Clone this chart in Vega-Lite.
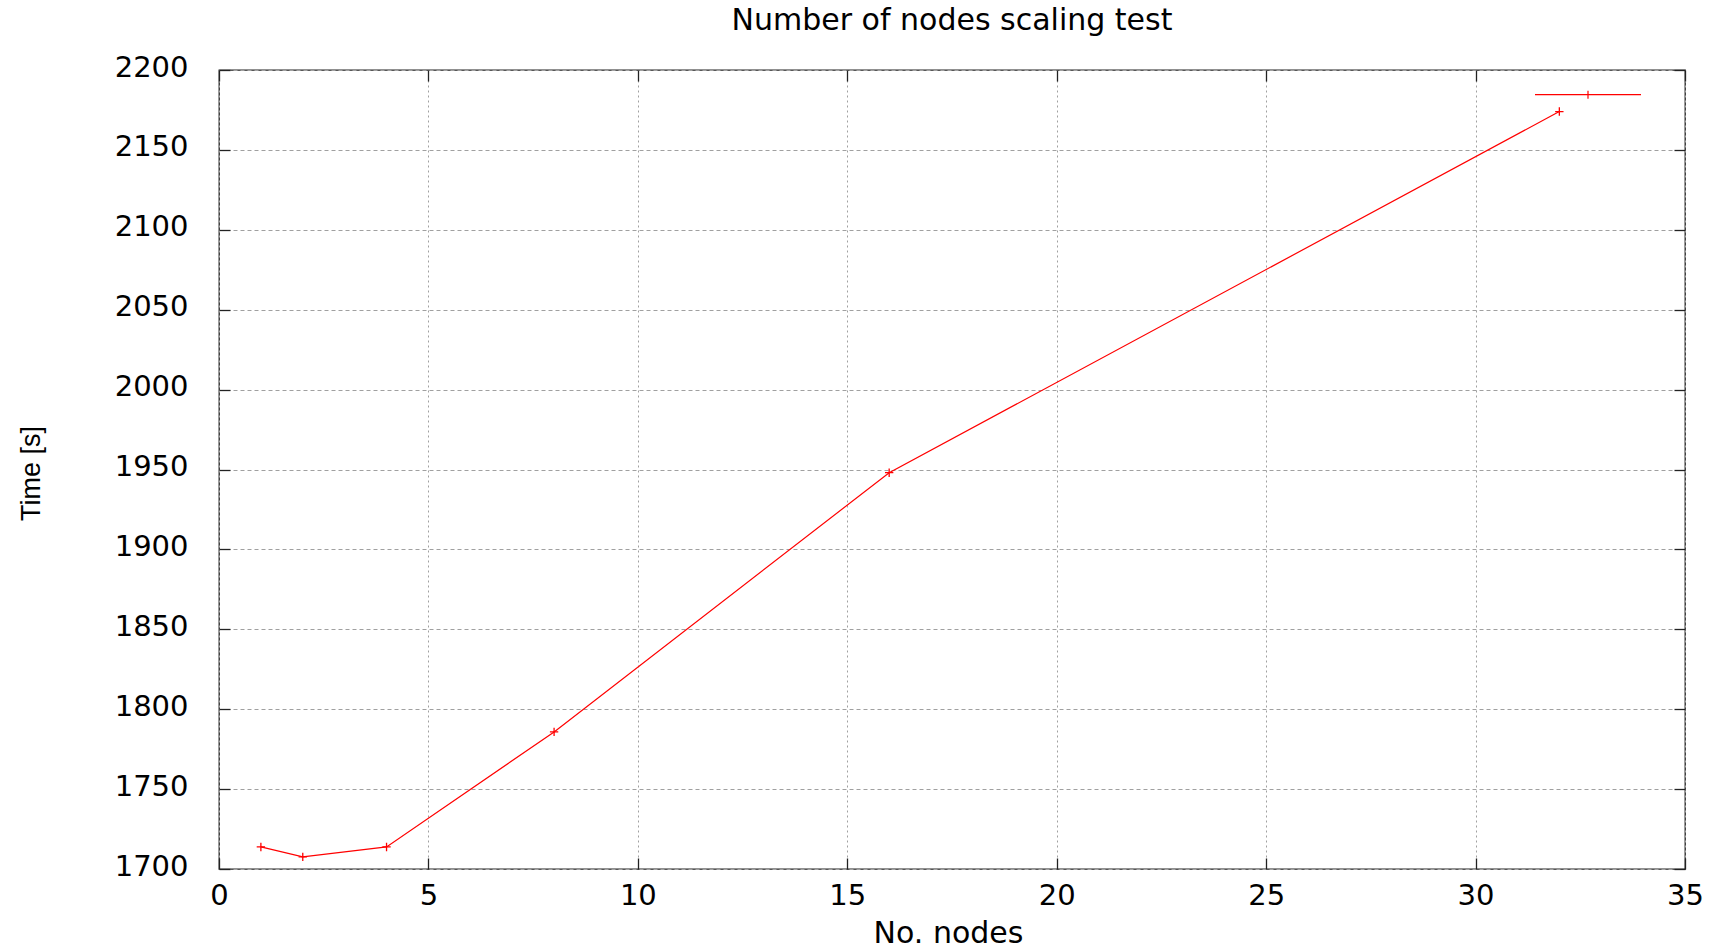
{
  "$schema": "https://vega.github.io/schema/vega-lite/v6.json",
  "width": 1466,
  "height": 799,
  "autosize": "none",
  "padding": {"left": 219, "top": 70, "right": 30, "bottom": 81},
  "background": "white",
  "title": {
    "text": "Number of nodes scaling test",
    "font": "DejaVu Sans",
    "fontSize": 30,
    "fontWeight": "normal",
    "color": "#000000",
    "anchor": "middle",
    "offset": 5
  },
  "config": {
    "view": {"stroke": "#222222", "strokeWidth": 1.3},
    "axis": {
      "labelFont": "DejaVu Sans",
      "labelFontSize": 29,
      "labelColor": "#000000",
      "titleColor": "#000000",
      "tickColor": "#222222",
      "tickWidth": 1.3,
      "domain": false
    }
  },
  "data": {
    "values": [
      {"nodes": 1, "time": 1713.8, "series": "Time"},
      {"nodes": 2, "time": 1707.6, "series": "Time"},
      {"nodes": 4, "time": 1713.8, "series": "Time"},
      {"nodes": 8, "time": 1785.8, "series": "Time"},
      {"nodes": 16, "time": 1948.0, "series": "Time"},
      {"nodes": 32, "time": 2174.0, "series": "Time"}
    ]
  },
  "layer": [
    {
      "mark": {"type": "line", "strokeWidth": 1.2},
      "encoding": {
        "x": {
          "field": "nodes", "type": "quantitative",
          "scale": {"domain": [0, 35], "nice": false, "zero": false},
          "axis": {
            "orient": "bottom",
            "values": [0, 5, 10, 15, 20, 25, 30, 35],
            "format": "d",
            "tickSize": -11,
            "labelPadding": 23,
            "labelFlush": false,
            "labelOverlap": false,
            "grid": true,
            "gridColor": "#a0a0a0",
            "gridDash": [2, 3],
            "gridWidth": 1,
            "title": "No. nodes",
            "titleFont": "DejaVu Sans",
            "titleFontSize": 30,
            "titleFontWeight": "normal",
            "titleX": 729,
            "titleY": 73,
            "titleBaseline": "alphabetic",
            "titleAnchor": "middle"
          }
        },
        "y": {
          "field": "time", "type": "quantitative",
          "scale": {"domain": [1700, 2200], "nice": false, "zero": false},
          "axis": {
            "orient": "left",
            "values": [1700, 1750, 1800, 1850, 1900, 1950, 2000, 2050, 2100, 2150, 2200],
            "format": "d",
            "tickSize": -11,
            "labelPadding": 42,
            "labelOffset": -3,
            "labelFlush": false,
            "labelOverlap": false,
            "grid": true,
            "gridColor": "#a0a0a0",
            "gridDash": [4, 3],
            "gridWidth": 1,
            "title": "Time [s]",
            "titleFont": "Liberation Sans",
            "titleFontSize": 27,
            "titleFontWeight": "normal",
            "titleAngle": -90,
            "titleX": -188,
            "titleY": 403,
            "titleAlign": "center",
            "titleBaseline": "middle"
          }
        },
        "color": {
          "field": "series", "type": "nominal",
          "scale": {"range": ["#ff0000"]},
          "legend": {
            "orient": "none",
            "legendX": 1315,
            "legendY": -29.3,
            "title": null,
            "padding": 0,
            "labelExpr": "''",
            "labelLimit": 1,
            "symbolType": "M-1,0L1,0M0,-0.075L0,0.075",
            "symbolSize": 11236,
            "symbolStrokeWidth": 1.2,
            "symbolStrokeColor": "#ff0000",
            "symbolFillColor": "transparent"
          }
        }
      }
    },
    {
      "mark": {
        "type": "point",
        "shape": "M-1,0L1,0M0,-1L0,1",
        "filled": false,
        "size": 70,
        "strokeWidth": 1.3,
        "color": "#ff0000",
        "opacity": 1
      },
      "encoding": {
        "x": {"field": "nodes", "type": "quantitative", "axis": null},
        "y": {"field": "time", "type": "quantitative", "axis": null}
      }
    },
    {
      "mark": {"type": "point", "opacity": 0},
      "encoding": {
        "x": {
          "field": "nodes", "type": "quantitative",
          "axis": {
            "orient": "top",
            "values": [0, 5, 10, 15, 20, 25, 30, 35],
            "tickSize": -11,
            "labels": false,
            "grid": false,
            "title": null
          }
        },
        "y": {
          "field": "time", "type": "quantitative",
          "axis": {
            "orient": "right",
            "values": [1700, 1750, 1800, 1850, 1900, 1950, 2000, 2050, 2100, 2150, 2200],
            "tickSize": -11,
            "labels": false,
            "grid": false,
            "title": null
          }
        }
      }
    }
  ],
  "resolve": {"axis": {"x": "independent", "y": "independent"}}
}
